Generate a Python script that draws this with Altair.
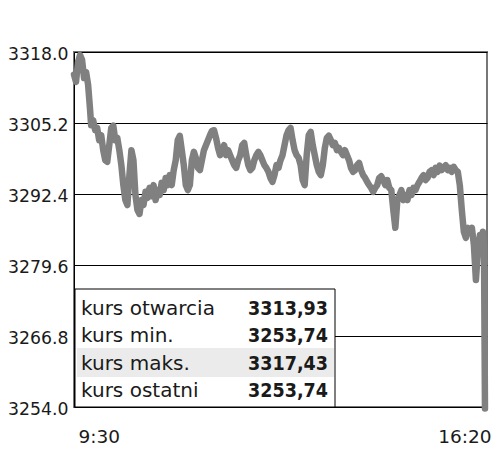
import altair as alt
import pandas as pd

# minutes after 9:30
minutes = [0, 2, 4, 6, 8, 10, 12, 14, 16, 17, 19, 21, 23, 25, 27, 29, 31, 33, 35, 37,
           39, 41, 43, 45, 47, 49, 51, 53, 55, 57, 59, 61, 63, 65, 67, 69, 71, 73, 75, 77,
           79, 81, 83, 85, 87, 89, 91, 93, 95, 97, 99, 101, 103, 105, 107, 109, 111, 113, 115, 117,
           119, 121, 123, 125, 127, 129, 131, 133, 135, 137, 139, 141, 143, 145, 147, 149, 151, 153, 155, 157,
           159, 161, 163, 165, 167, 169, 171, 173, 175, 177, 179, 181, 183, 185, 187, 189, 191, 193, 195, 197,
           199, 201, 203, 205, 207, 209, 211, 213, 215, 217, 219, 221, 223, 225, 227, 229, 231, 233, 235, 237,
           239, 241, 243, 245, 247, 249, 251, 253, 255, 257, 259, 261, 263, 265, 267, 269, 271, 273, 275, 277,
           279, 281, 283, 285, 287, 289, 291, 293, 295, 297, 299, 301, 303, 305, 307, 309, 311, 313, 315, 317,
           319, 321, 323, 325, 327, 329, 331, 333, 335, 337, 339, 341, 343, 345, 347, 349, 351, 353, 355, 357,
           359, 361, 363, 365, 367, 369, 371, 373, 375, 377, 379, 381, 383, 385, 387, 389, 391, 393, 395, 397,
           399, 401, 403, 405, 406, 407, 408]

prices = [3313.93, 3312.6, 3316.2, 3317.43, 3316.6, 3313.3, 3314.4, 3312.1, 3307.5, 3304.8,
          3305.7, 3303.9, 3304.3, 3302.1, 3303.0, 3300.3, 3298.5, 3298.2, 3301.2, 3304.3,
          3304.7, 3302.1, 3302.5, 3300.3, 3297.6, 3294.0, 3291.3, 3290.4, 3295.8, 3300.3,
          3298.5, 3292.2, 3289.5, 3288.8, 3291.3, 3290.4, 3292.8, 3291.7, 3293.5, 3292.0,
          3294.0, 3291.3, 3293.1, 3292.2, 3294.4, 3293.1, 3295.3, 3294.0, 3295.8, 3294.0,
          3296.7, 3298.5, 3302.1, 3302.9, 3300.3, 3297.6, 3294.0, 3293.1, 3294.0, 3298.5,
          3300.0, 3298.9, 3297.1, 3296.7, 3298.5, 3300.3, 3301.2, 3302.1, 3303.0, 3303.8,
          3303.9, 3302.5, 3300.7, 3299.4, 3300.3, 3301.2, 3299.4, 3300.3, 3299.4, 3298.5,
          3297.6, 3297.1, 3298.5, 3299.4, 3301.2, 3301.6, 3299.4, 3297.6, 3296.7, 3297.1,
          3298.5, 3299.4, 3300.0, 3299.4, 3298.5, 3297.6, 3297.1, 3296.4, 3295.3, 3294.6,
          3295.8, 3297.6, 3297.1, 3298.5, 3299.4, 3301.2, 3303.0, 3303.9, 3304.3, 3302.1,
          3300.3, 3299.4, 3298.9, 3297.6, 3294.9, 3294.0, 3299.4, 3303.0, 3303.6, 3301.2,
          3299.4, 3297.6, 3296.4, 3295.8, 3297.6, 3300.7, 3302.5, 3302.9, 3302.1, 3301.2,
          3301.6, 3300.3, 3300.7, 3300.0, 3299.4, 3300.3, 3299.4, 3298.5, 3297.1, 3296.4,
          3296.7, 3297.6, 3298.0, 3296.7, 3295.8, 3295.3, 3294.6, 3294.0, 3293.5, 3292.8,
          3293.5, 3294.0, 3295.3, 3295.6, 3294.9, 3294.0, 3294.9, 3293.5, 3293.1, 3289.5,
          3286.3, 3291.3, 3292.2, 3293.1, 3291.3, 3292.2, 3291.3, 3293.1, 3292.2, 3293.5,
          3293.1, 3294.0, 3294.6, 3295.3, 3295.8, 3294.9, 3295.3, 3296.4, 3296.7, 3295.8,
          3297.1, 3296.4, 3297.5, 3296.7, 3297.1, 3297.6, 3296.7, 3297.1, 3296.4, 3297.3,
          3296.7, 3296.4, 3294.0, 3289.5, 3285.6, 3284.5, 3286.3, 3285.4, 3286.3, 3283.2,
          3276.9, 3282.3, 3285.0, 3284.1, 3285.6, 3282.7, 3253.74]

y_ticks = [3254.0, 3266.8, 3279.6, 3292.4, 3305.2, 3318.0]
x_ticks = [0, 410]
x_labels = ["9:30", "16:20"]

table_labels = ["kurs otwarcia", "kurs min.", "kurs maks.", "kurs ostatni"]
table_values = ["3313,93", "3253,74", "3317,43", "3253,74"]

df = pd.DataFrame({"t": minutes, "p": prices})

FONT = "DejaVu Sans"
TXT = "#1a1a1a"

xs = alt.Scale(domain=[0, 410], nice=False, zero=False)
ys = alt.Scale(domain=[3254, 3318], nice=False, zero=False)

label_expr = f"datum.value == {x_ticks[0]} ? '{x_labels[0]}' : '{x_labels[1]}'"

line = alt.Chart(df).mark_line(
    color="#808080", strokeWidth=6.5, strokeJoin="round", strokeCap="round"
).encode(
    x=alt.X("t:Q", scale=xs, axis=alt.Axis(
        values=x_ticks, labelExpr=label_expr, title=None, grid=False, ticks=False,
        domain=False, labelFlush=True, labelOffset=4, labelPadding=20,
        labelFontSize=18.5, labelFont=FONT, labelColor=TXT)),
    y=alt.Y("p:Q", scale=ys, axis=alt.Axis(
        values=y_ticks, format=".1f", title=None, grid=True, gridColor="black",
        gridWidth=1, gridOpacity=1, ticks=False, domain=True, domainColor="black",
        domainWidth=1, labelPadding=6, labelFontSize=17.3, labelFont=FONT,
        labelColor=TXT, labelOffset=2)),
)

one = pd.DataFrame({"a": [0]})
box = alt.Chart(one).mark_rect(fill="white", stroke="black", strokeWidth=1).encode(
    x=alt.value(1), x2=alt.value(261), y=alt.value(237), y2=alt.value(355))
hl = alt.Chart(one).mark_rect(fill="#ebebeb").encode(
    x=alt.value(3), x2=alt.value(260), y=alt.value(296), y2=alt.value(325))

layers = [line, box, hl]
for i, (lab, val) in enumerate(zip(table_labels, table_values)):
    yy = 263 + 27.3 * i
    layers.append(alt.Chart(one).mark_text(
        align="left", baseline="alphabetic", font=FONT, fontSize=20, color=TXT,
        text=lab).encode(x=alt.value(7), y=alt.value(yy)))
    layers.append(alt.Chart(one).mark_text(
        align="right", baseline="alphabetic", font="DejaVu Sans Condensed", fontSize=19.5,
        fontWeight="bold", color=TXT, text=val).encode(x=alt.value(254), y=alt.value(yy)))

chart = alt.layer(*layers).properties(
    width=413, height=355,
    autosize=alt.AutoSizeParams(type="none"),
    padding={"left": 66, "top": 44, "right": 5, "bottom": 40},
).configure_view(stroke="#777777", strokeWidth=2)

chart.save("out.html", embed_options={"renderer": "svg", "actions": False})
